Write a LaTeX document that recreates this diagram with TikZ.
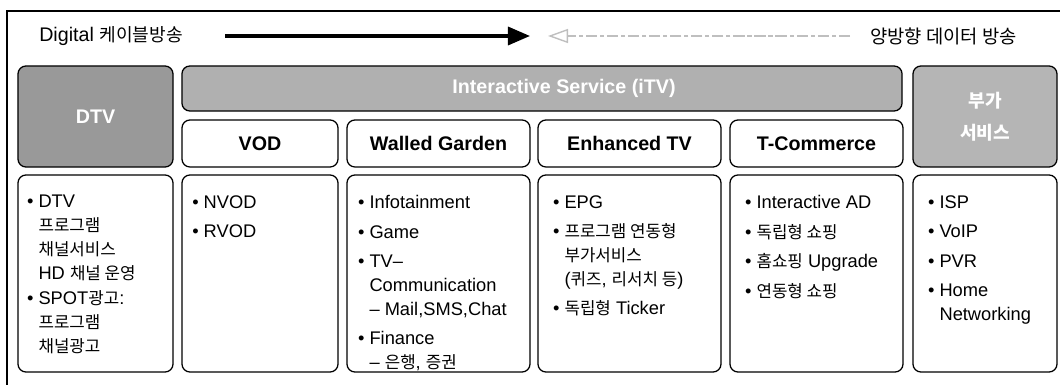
\documentclass[tikz,border=0pt]{standalone}
\usepackage{fontspec}
\setmainfont{Liberation Sans}
\newfontfamily\krfont[Scale=0.92]{Noto Sans CJK KR}
\newcommand{\ko}[1]{{\krfont #1}}
\newcommand{\ind}{\hphantom{•\ }}
\usetikzlibrary{arrows.meta}

\begin{document}
\begin{tikzpicture}[x=0.025cm, y=-0.025cm,
  box/.style={draw, line width=0.9pt, rounded corners=0.2cm, inner sep=0pt, outer sep=0pt},
  darkbox/.style={box, fill=gray!65, text=white, font=\fontsize{14}{22.7}\selectfont\bfseries},
  headbox/.style={box, minimum height=1.175cm, font=\fontsize{14}{17}\selectfont\bfseries},
  listbox/.style={box, minimum height=4.925cm},
  items/.style={anchor=north west, inner sep=0pt, align=left, font=\fontsize{13}{17}\selectfont}]
\useasboundingbox (0,0) rectangle (1060,385);
\draw[line width=0.8pt] (1060,11) -- (7,11) -- (7,385);

% title line
\node[anchor=west, inner sep=0pt, font=\fontsize{14}{17}\selectfont] (cable) at (39,36) {Digital \ko{케이블방송}};
\node[anchor=west, inner sep=0pt, font=\fontsize{14.5}{17}\selectfont] (twoway) at (870,36) {\ko{양방향 데이터 방송}};
\coordinate (fwdA) at (225,36);
\coordinate (fwdB) at (530,36);
\coordinate (backA) at (850,36);
\coordinate (backB) at (548,36);
\draw[line width=2.4pt, -{Triangle[length=0.55cm, width=0.45cm]}] (fwdA) -- (fwdB);
\draw[gray!50, line width=1pt, dash pattern=on 8pt off 2pt on 3pt off 2pt,
      -{Triangle[open, length=0.5cm, width=0.35cm]}] (backA) -- (backB);

% top row
\node[darkbox, fill=gray!80, minimum width=3.875cm, minimum height=2.525cm] (dtv) at (95.5,116.5) {DTV};
\node[darkbox, fill=gray!62, minimum width=18cm, minimum height=1.125cm] (itv) at (542,88.5) {};
\node[text=white, font=\fontsize{14}{17}\selectfont\bfseries] (itvlabel) at (564,88.5) {Interactive Service (iTV)};
\node[darkbox, fill=gray!58, minimum width=3.6cm, minimum height=2.525cm, align=center] (extra) at (985,116.5) {\ko{부가}\\\ko{서비스}};

\node[headbox, minimum width=3.9cm] (vod) at (260,143.5) {VOD};
\node[headbox, minimum width=4.575cm] (garden) at (438.5,143.5) {Walled Garden};
\node[headbox, minimum width=4.575cm] (etv) at (629.5,143.5) {Enhanced TV};
\node[headbox, minimum width=4.325cm] (tcom) at (816.5,143.5) {T-Commerce};

% bottom row
\node[listbox, minimum width=3.875cm] (dtvlist) at (95.5,273.5) {};
\node[listbox, minimum width=3.9cm] (vodlist) at (260,273.5) {};
\node[listbox, minimum width=4.575cm] (gardenlist) at (438.5,273.5) {};
\node[listbox, minimum width=4.575cm] (etvlist) at (629.5,273.5) {};
\node[listbox, minimum width=4.325cm] (tcomlist) at (816.5,273.5) {};
\node[listbox, minimum width=3.6cm] (extralist) at (985,273.5) {};

\node[items] (dtvtext) at ([xshift=0.22cm, yshift=-0.5cm]dtvlist.north west)
  {• DTV\\ \ind\ko{프로그램}\\ \ind\ko{채널서비스}\\ \ind HD \ko{채널 운영}\\[1pt]
   • SPOT\ko{광고}:\\ \ind\ko{프로그램}\\ \ind\ko{채널광고}};
\node[items] (vodtext) at ([xshift=0.25cm, yshift=-0.5cm]vodlist.north west)
  {• NVOD\\[4pt] • RVOD};
\node[items] (gardentext) at ([xshift=0.27cm, yshift=-0.5cm]gardenlist.north west)
  {• Infotainment\\[4pt] • Game\\[4pt] • TV–\\ \ind Communication\\ \ind – Mail,SMS,Chat\\[4pt]
   • Finance\\ \ind – \ko{은행}, \ko{증권}};
\node[items] (etvtext) at ([xshift=0.37cm, yshift=-0.5cm]etvlist.north west)
  {• EPG\\[4pt] • \ko{프로그램 연동형}\\ \ind\ko{부가서비스}\\ \ind(\ko{퀴즈}, \ko{리서치 등})\\[4pt]
   • \ko{독립형} Ticker};
\node[items] (tcomtext) at ([xshift=0.37cm, yshift=-0.5cm]tcomlist.north west)
  {• Interactive AD\\[4pt] • \ko{독립형 쇼핑}\\[4pt] • \ko{홈쇼핑} Upgrade\\[4pt] • \ko{연동형 쇼핑}};
\node[items] (extratext) at ([xshift=0.37cm, yshift=-0.5cm]extralist.north west)
  {• ISP\\[4pt] • VoIP\\[4pt] • PVR\\[4pt] • Home\\ \ind Networking};
\end{tikzpicture}
\end{document}
